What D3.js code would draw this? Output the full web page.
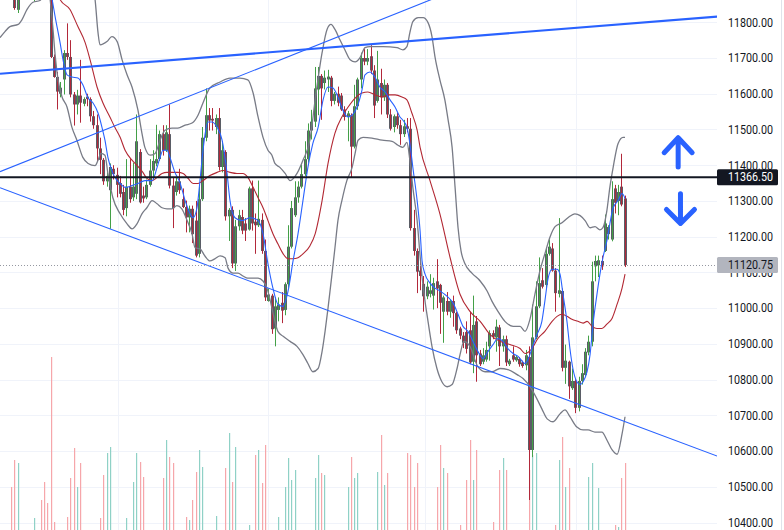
<!DOCTYPE html>
<html><head><meta charset="utf-8">
<script src="https://cdn.jsdelivr.net/npm/d3@7"></script>
<style>html,body{margin:0;padding:0;background:#fff;overflow:hidden}svg{display:block}</style>
</head><body><svg id="c" width="784" height="530"></svg>
<script>
// ---------- DATA ----------
const openP = [
11920,11930,11915,11890,11880,11835,11875,11895,11915,11905,
11880,11885,11900,11890,11880,11870,11703,11647,11600,11640,
11714,11703,11598,11570,11595,11572,11592,11585,11537,11512,
11447,11415,11355,11330,11390,11373,11350,11325,11280,11340,
11310,11320,11437,11315,11310,11345,11385,11405,11417,11487,
11442,11487,11343,11325,11355,11305,11283,11254,11278,11245,
11152,11305,11477,11540,11530,11507,11532,11395,11437,11257,
11275,11125,11229,11255,11237,11220,11335,11242,11232,11247,
11160,11020,11035,10943,10995,11015,10995,11067,11172,11260,
11310,11340,11375,11417,11497,11522,11612,11650,11630,11640,
11645,11580,11600,11595,11556,11535,11540,11452,11565,11640,
11700,11690,11705,11665,11580,11630,11590,11625,11542,11507,
11537,11512,11487,11509,11502,11224,11160,11105,11068,11033,
11040,11035,11075,11065,10990,11020,10990,11020,10986,10943,
10923,10933,10938,10850,10963,10873,10850,10856,10893,10930,
10918,10946,10893,10913,10843,10868,10854,10858,10848,10840,
10863,10603,10918,11005,11078,11065,11152,11167,11105,11040,
11048,10833,10850,10776,10796,10721,10796,10813,10876,10906,
11117,11120,11132,11160,11207,11192,11335,11300,11340,11307];
const highP = [
11945,11950,11925,11905,11895,11880,11900,11925,11935,11915,
11890,11910,11915,11900,11890,11885,11710,11661,11633,11722,
11797,11750,11605,11611,11695,11590,11600,11590,11552,11542,
11477,11420,11380,11405,11400,11393,11370,11345,11417,11417,
11407,11542,11445,11340,11360,11417,11442,11513,11497,11512,
11512,11570,11365,11365,11390,11335,11301,11287,11287,11300,
11340,11507,11615,11560,11560,11542,11560,11467,11442,11280,
11285,11247,11275,11275,11252,11340,11357,11265,11357,11265,
11192,11055,11040,11030,11030,11045,11072,11232,11300,11355,
11355,11402,11467,11517,11555,11675,11675,11655,11665,11667,
11650,11605,11620,11602,11565,11552,11545,11625,11645,11715,
11725,11725,11736,11680,11720,11670,11640,11630,11557,11542,
11547,11527,11527,11532,11532,11275,11167,11132,11090,11075,
11095,11085,11137,11068,11035,11045,11025,11035,10990,10948,
10933,10963,10990,11035,10978,10883,10888,10906,10938,10938,
10968,10953,10923,10923,10858,10893,10868,10863,10853,10883,
10893,11010,11075,11142,11112,11167,11192,11182,11112,11252,
11055,10898,10853,10831,10801,10808,10843,10888,10923,11130,
11147,11147,11147,11262,11232,11355,11345,11345,11432,11315];
const lowP = [
11900,11905,11880,11870,11835,11826,11865,11885,11895,11870,
11858,11875,11880,11870,11865,11700,11645,11556,11590,11598,
11695,11590,11511,11542,11519,11565,11565,11522,11502,11412,
11375,11345,11340,11222,11360,11310,11310,11260,11257,11295,
11300,11305,11293,11295,11305,11340,11360,11397,11412,11427,
11437,11335,11224,11315,11320,11280,11212,11212,11182,11142,
11142,11300,11467,11497,11497,11487,11385,11380,11245,11188,
11112,11104,11217,11207,11188,11217,11217,11152,11227,11152,
11020,11018,10928,10893,10963,10958,10980,11057,11167,11255,
11295,11335,11370,11407,11472,11507,11540,11527,11612,11605,
11565,11570,11565,11552,11525,11467,11365,11447,11555,11615,
11680,11680,11655,11532,11575,11542,11580,11532,11497,11492,
11502,11457,11479,11492,11217,11147,11042,11050,10990,11025,
11030,10996,11000,10928,10903,10980,10973,10948,10928,10913,
10888,10873,10843,10818,10794,10838,10843,10850,10853,10913,
10878,10838,10878,10838,10838,10850,10850,10836,10833,10826,
10463,10583,10913,11000,11055,11055,11147,11102,10990,11030,
10823,10788,10746,10771,10706,10711,10786,10808,10868,10893,
11075,11087,11107,11157,11192,11187,11265,11260,11285,11115];
const closeP = [
11930,11915,11890,11880,11840,11875,11895,11915,11905,11880,
11885,11900,11890,11880,11870,11703,11647,11606,11617,11714,
11703,11598,11570,11595,11575,11585,11585,11537,11512,11447,
11415,11355,11370,11395,11375,11345,11320,11275,11340,11305,
11340,11467,11296,11307,11345,11385,11412,11417,11487,11442,
11492,11343,11280,11355,11330,11283,11254,11278,11207,11147,
11305,11477,11540,11525,11525,11532,11395,11442,11257,11275,
11125,11229,11260,11217,11217,11335,11237,11232,11250,11160,
11030,11038,10941,11005,11010,10993,11067,11172,11280,11310,
11340,11375,11417,11497,11522,11615,11650,11615,11645,11648,
11580,11600,11575,11556,11535,11545,11452,11565,11640,11700,
11690,11700,11665,11567,11640,11590,11625,11542,11502,11537,
11512,11487,11509,11502,11224,11160,11102,11090,11033,11060,
11050,11070,11055,11015,11030,10990,11020,10986,10938,10923,
10903,10886,10848,10953,10868,10843,10868,10883,10930,10920,
10948,10893,10913,10848,10853,10856,10863,10843,10838,10868,
10603,10918,11005,11070,11060,11152,11172,11105,11042,11050,
10833,10853,10781,10796,10721,10796,10818,10878,10906,11075,
11132,11134,11117,11237,11227,11305,11295,11325,11290,11120.75];
const volume = [
0,0,0,43,70,67,0,0,0,0,
12,0,30,48,27,173,8,0,0,0,
13,52,82,43,67,0,0,0,0,0,
12,55,77,83,0,0,0,0,12,0,
48,77,68,53,0,0,0,0,0,52,
90,73,67,0,0,0,13,10,30,58,
80,63,0,0,0,14,0,0,62,97,
48,83,0,0,0,5,0,75,80,47,
85,0,0,0,13,0,43,72,50,60,
0,0,0,0,0,52,75,57,55,0,
0,0,0,0,0,43,73,52,57,0,
0,0,0,0,58,95,45,57,0,0,
0,0,0,77,75,43,67,0,0,0,
0,0,43,85,62,57,0,0,0,5,
0,50,90,50,80,0,0,0,0,8,
0,60,72,60,0,0,0,0,0,0,
60,75,77,0,0,0,0,0,5,70,
93,43,62,0,0,0,0,0,53,67,
0,42,0,0,0,0,5,3,52,67];

// indicator lines: [bar index, price]
const maFast = [[13.9,11948],[15.5,11864],[16.4,11816],[17.9,11743],[18.8,11695],[20.0,11653],[21.5,11647],[23.3,11644],[24.8,11625],[26.4,11588],[27.9,11574],[29.4,11546],[30.6,11506],[31.5,11470],[32.4,11422],[33.6,11385],[34.5,11366],[36.1,11349],[37.6,11338],[39.7,11343],[41.5,11349],[43.6,11357],[45.8,11357],[47.3,11394],[48.2,11422],[49.1,11442],[50.3,11442],[51.2,11422],[52.7,11380],[54.2,11352],[55.8,11301],[57.3,11264],[58.2,11253],[59.4,11281],[60.0,11329],[60.9,11414],[61.8,11484],[62.7,11521],[63.9,11521],[65.5,11506],[67.0,11470],[68.5,11377],[69.4,11301],[70.9,11253],[73.0,11245],[75.5,11253],[77.9,11245],[79.4,11208],[80.9,11124],[82.4,11056],[83.9,11011],[85.5,11005],[87.0,11048],[88.5,11132],[90.0,11208],[91.5,11301],[93.0,11394],[94.5,11461],[96.1,11506],[97.6,11583],[99.1,11619],[100.6,11616],[102.1,11591],[103.6,11554],[105.2,11535],[106.4,11540],[107.9,11563],[109.4,11611],[110.3,11653],[111.8,11661],[113.3,11647],[114.8,11619],[116.4,11605],[117.9,11583],[119.4,11563],[120.9,11535],[121.8,11526],[123.0,11506],[123.9,11461],[124.8,11394],[126.1,11301],[127.0,11216],[127.6,11132],[128.5,11095],[130.0,11070],[131.5,11056],[133.0,11048],[135.2,11033],[137.0,11014],[138.5,10983],[140.0,10949],[141.5,10935],[143.0,10907],[144.5,10879],[146.1,10859],[147.6,10879],[149.1,10898],[150.6,10915],[152.1,10907],[153.6,10887],[155.2,10873],[156.7,10865],[158.8,10845],[159.7,10856],[160.9,10887],[162.4,10926],[163.9,10963],[164.8,11019],[165.8,11084],[167.0,11109],[168.5,11109],[169.4,11095],[170.3,11039],[171.5,10963],[172.4,10887],[173.3,10831],[174.5,10794],[175.5,10786],[176.4,10794],[177.6,10822],[178.5,10870],[179.4,10955],[180.6,11039],[181.5,11095],[182.4,11141],[183.6,11188],[184.5,11236],[185.5,11281],[187.0,11301],[188.2,11321],[189.1,11307]];
const maSlow = [[16.4,11920],[17.9,11864],[20.9,11836],[23.3,11788],[25.5,11743],[27.0,11695],[29.1,11619],[30.9,11574],[33.0,11535],[34.5,11506],[36.1,11478],[37.6,11442],[39.7,11414],[41.5,11397],[43.0,11380],[44.2,11363],[45.8,11357],[47.3,11366],[48.8,11377],[50.3,11380],[52.1,11380],[53.6,11380],[55.2,11377],[56.7,11363],[58.2,11349],[59.7,11349],[61.2,11357],[63.3,11371],[65.5,11380],[67.3,11385],[69.4,11380],[71.5,11377],[73.3,11377],[74.8,11366],[76.4,11338],[77.9,11309],[79.4,11281],[80.9,11245],[82.4,11208],[83.9,11180],[85.5,11152],[87.0,11138],[88.5,11138],[90.0,11141],[91.5,11152],[93.6,11174],[95.2,11208],[97.3,11301],[99.1,11405],[101.2,11490],[103.3,11535],[105.2,11563],[107.3,11588],[109.4,11602],[111.2,11605],[113.3,11597],[115.5,11591],[117.3,11597],[119.4,11597],[121.5,11591],[123.0,11583],[124.5,11546],[126.1,11498],[127.0,11450],[130.0,11357],[133.0,11264],[136.1,11141],[139.1,11039],[142.1,10991],[145.2,10963],[148.2,10926],[151.2,10907],[154.2,10898],[157.3,10887],[158.8,10873],[160.9,10887],[162.7,10915],[164.8,10935],[167.0,10963],[168.5,10977],[170.0,10983],[171.5,10977],[173.0,10969],[174.8,10963],[176.4,10958],[177.6,10963],[179.1,10949],[180.6,10943],[182.1,10943],[183.6,10955],[185.2,10972],[186.7,11011],[188.2,11056],[189.1,11095]];
const bbUpper = [[27.0,11920],[28.5,11864],[29.4,11771],[30.0,11737],[32.1,11746],[33.6,11760],[35.2,11746],[36.7,11695],[38.2,11653],[39.7,11619],[41.5,11554],[42.7,11490],[43.6,11450],[45.2,11428],[46.7,11433],[48.2,11470],[49.7,11498],[51.8,11504],[53.6,11504],[55.8,11512],[57.9,11518],[59.7,11540],[61.2,11574],[63.3,11616],[66.4,11633],[69.4,11644],[72.4,11644],[74.8,11639],[76.4,11602],[77.9,11535],[79.4,11478],[80.9,11442],[82.1,11428],[83.0,11405],[84.5,11394],[86.1,11377],[87.6,11357],[89.7,11377],[91.5,11414],[93.6,11470],[95.2,11583],[97.3,11715],[98.8,11780],[100.0,11794],[101.2,11780],[102.7,11751],[104.2,11723],[105.8,11695],[107.3,11689],[108.8,11701],[110.3,11729],[111.8,11732],[115.8,11732],[120.0,11729],[121.8,11723],[123.0,11732],[123.9,11771],[124.8,11802],[126.4,11813],[127.9,11813],[129.4,11799],[130.6,11760],[131.5,11704],[133.0,11639],[134.5,11583],[135.5,11526],[136.7,11450],[137.6,11338],[138.5,11225],[139.4,11160],[140.6,11124],[142.7,11098],[145.2,11076],[147.3,11048],[148.8,11019],[150.6,10991],[152.7,10963],[155.2,10949],[157.3,10949],[158.8,10935],[160.3,10969],[161.8,11039],[163.3,11104],[164.8,11152],[166.4,11200],[167.9,11228],[170.0,11239],[171.8,11253],[173.9,11264],[175.5,11259],[177.0,11245],[178.5,11225],[180.0,11228],[181.5,11219],[182.4,11225],[183.6,11273],[184.5,11338],[185.5,11394],[187.0,11461],[188.5,11478],[189.1,11478]];
const bbLower = [[-0.3,11757],[1.2,11774],[2.7,11788],[5.2,11794],[6.4,11808],[7.9,11836],[9.7,11856],[11.8,11861],[13.3,11878],[14.5,11878],[15.5,11808],[16.4,11709],[17.3,11639],[18.5,11591],[20.0,11563],[21.5,11506],[23.0,11470],[24.8,11422],[26.4,11405],[28.5,11399],[29.4,11414],[30.3,11433],[31.5,11428],[32.4,11377],[33.9,11309],[36.1,11264],[38.2,11236],[39.7,11222],[41.2,11236],[42.7,11264],[44.2,11281],[45.8,11301],[47.3,11292],[48.8,11281],[50.3,11278],[51.8,11278],[53.3,11287],[54.8,11278],[56.4,11245],[57.9,11208],[58.8,11169],[60.3,11166],[61.8,11146],[63.3,11132],[64.8,11138],[66.4,11146],[67.9,11141],[68.8,11112],[70.3,11098],[71.8,11098],[73.3,11090],[74.8,11084],[77.9,11084],[79.4,11076],[80.6,11056],[82.1,11000],[83.0,10963],[83.9,10935],[85.5,10921],[87.6,10907],[89.7,10893],[91.5,10870],[93.0,10845],[94.5,10822],[96.1,10831],[97.3,10879],[98.2,10935],[99.1,11000],[100.3,11095],[101.2,11169],[102.1,11245],[103.3,11301],[104.8,11357],[106.4,11394],[107.3,11433],[108.2,11470],[109.7,11478],[112.4,11476],[115.5,11470],[118.5,11467],[120.3,11456],[121.8,11450],[123.0,11464],[123.9,11414],[124.8,11338],[126.1,11245],[127.0,11146],[127.9,11062],[129.4,10963],[130.6,10893],[132.1,10831],[133.6,10794],[135.2,10780],[136.7,10786],[138.2,10831],[139.1,10870],[140.3,10907],[142.1,10893],[144.5,10836],[146.7,10822],[148.8,10822],[151.2,10831],[153.6,10828],[156.4,10814],[158.2,10803],[160.3,10780],[162.4,10746],[163.9,10718],[165.5,10690],[167.3,10682],[169.4,10704],[170.9,10715],[172.4,10696],[174.5,10667],[176.4,10659],[177.9,10659],[180.0,10653],[182.1,10653],[183.6,10631],[185.2,10603],[186.7,10591],[188.2,10648],[189.1,10696]];

// drawings
const trendThick = [[-0.3,11656],[217,11816]];
const trendUpper = [[-0.3,11382],[132.1,11870]];
const trendLower = [[-0.3,11337],[217,10586]];
const hLinePrice = 11366.50;
const lastPrice = 11120.75;
const upArrow = {idx:205.2, top:11477, bottom:11395};
const downArrow = {idx:205.9, top:11320, bottom:11237};

const yTicks = [10400,10500,10600,10700,10800,10900,11000,11100,11200,11300,11400,11500,11600,11700,11800];
const timeGrid = [35.5, 81, 128.5, 174.2];

// ---------- CHART ----------
const W = 784, H = 530, plotR = 717;
const svg = d3.select('#c');
const x = d3.scaleLinear().domain([0,189]).range([1,624.7]);
const y = d3.scaleLinear().domain([10400,11800]).range([522.5,22.3]);
const yv = d3.scaleLinear().domain([0,200]).range([530,330]);

svg.append('rect').attr('width',W).attr('height',H).attr('fill','#fff');
svg.append('defs').append('clipPath').attr('id','plot')
  .append('rect').attr('x',0).attr('y',0).attr('width',plotR).attr('height',H);
const g = svg.append('g').attr('clip-path','url(#plot)');

const px = v => Math.round(v) + 0.5;
// grid
g.selectAll('.hg').data(yTicks).join('line')
  .attr('x1',0).attr('x2',plotR)
  .attr('y1',d=>px(y(d))).attr('y2',d=>px(y(d)))
  .attr('stroke','#f0f3fa').attr('stroke-width',1);
g.selectAll('.vg').data(timeGrid).join('line')
  .attr('x1',d=>px(x(d))).attr('x2',d=>px(x(d)))
  .attr('y1',0).attr('y2',H)
  .attr('stroke','#f0f3fa').attr('stroke-width',1);

// volume
const idx = d3.range(closeP.length);
g.selectAll('.vol').data(idx.filter(i=>volume[i]>0)).join('rect')
  .attr('x',i=>Math.round(x(i)))
  .attr('width',1.2)
  .attr('y',i=>yv(volume[i]))
  .attr('height',i=>yv(0)-yv(volume[i]))
  .attr('fill',i=>closeP[i]>=openP[i]?'#8fd1c6':'#f6a6aa');

// candles
const up = i => closeP[i] >= openP[i];
g.selectAll('.body').data(idx).join('rect')
  .attr('x',i=>Math.round(x(i))-1)
  .attr('width',3)
  .attr('y',i=>y(Math.max(openP[i],closeP[i])))
  .attr('height',i=>Math.max(1,Math.abs(y(openP[i])-y(closeP[i]))))
  .attr('fill','#5a5d66');
g.selectAll('.wick').data(idx).join('line')
  .attr('x1',i=>px(x(i))).attr('x2',i=>px(x(i)))
  .attr('y1',i=>y(highP[i])).attr('y2',i=>y(lowP[i]))
  .attr('stroke',i=>up(i)?'#43a047':'#b2283a').attr('stroke-width',1);

// indicator lines
const ln = d3.line().x(d=>x(d[0])).y(d=>y(d[1])).curve(d3.curveMonotoneX);
[[bbUpper,'#787b86',1.3],[bbLower,'#787b86',1.3],[maSlow,'#b22833',1.1],[maFast,'#2962ff',1.1]].forEach(([d,c,w])=>{
  g.append('path').datum(d).attr('d',ln).attr('fill','none').attr('stroke',c).attr('stroke-width',w);
});

// trend lines
const sl = d3.line().x(d=>x(d[0])).y(d=>y(d[1]));
g.append('path').datum(trendUpper).attr('d',sl).attr('stroke','#2962ff').attr('stroke-width',1.1).attr('fill','none');
g.append('path').datum(trendLower).attr('d',sl).attr('stroke','#2962ff').attr('stroke-width',1.1).attr('fill','none');
g.append('path').datum(trendThick).attr('d',sl).attr('stroke','#2962ff').attr('stroke-width',2.2).attr('fill','none');

// last price dotted line
g.append('line').attr('x1',0).attr('x2',plotR)
  .attr('y1',px(y(lastPrice))).attr('y2',px(y(lastPrice)))
  .attr('stroke','#9598a1').attr('stroke-width',1).attr('stroke-dasharray','1,2');
// horizontal line
g.append('line').attr('x1',0).attr('x2',plotR)
  .attr('y1',y(hLinePrice)).attr('y2',y(hLinePrice))
  .attr('stroke','#131722').attr('stroke-width',2);

// arrows
const arrowG = svg.append('g').attr('fill','none').attr('stroke','#2962ff')
  .attr('stroke-width',5).attr('stroke-linecap','round').attr('stroke-linejoin','round');
{
  const ax = x(upArrow.idx), t = y(upArrow.top), b = y(upArrow.bottom);
  arrowG.append('path').attr('d',`M${ax},${b}L${ax},${t+2}M${ax-14},${t+15}L${ax},${t}L${ax+14},${t+15}`);
  const dx = x(downArrow.idx), dt = y(downArrow.top), db = y(downArrow.bottom);
  arrowG.append('path').attr('d',`M${dx},${dt}L${dx},${db-2}M${dx-14},${db-14}L${dx},${db}L${dx+14},${db-14}`);
}

// axis
const fmt = d3.format('.2f');
const axis = svg.append('g').attr('transform','translate(728,0)')
  .call(d3.axisRight(y).tickValues(yTicks).tickFormat(fmt).tickSize(0).tickPadding(0));
axis.select('.domain').remove();
axis.selectAll('text').attr('fill','#131722').style('font-family','Roboto, "Liberation Sans", sans-serif')
  .style('font-size','12px').attr('textLength',45).attr('lengthAdjust','spacingAndGlyphs');

// price labels
const labels = [{v:hLinePrice,bg:'#131722',fg:'#ffffff'},{v:lastPrice,bg:'#b2b5be',fg:'#131722'}];
const lg = svg.selectAll('.lbl').data(labels).join('g');
lg.append('rect').attr('x',717).attr('width',61).attr('y',d=>y(d.v)-8).attr('height',16).attr('rx',1.5).attr('fill',d=>d.bg);
lg.append('text').attr('x',728).attr('y',d=>y(d.v)).attr('dy','0.34em')
  .attr('fill',d=>d.fg).style('font-family','Roboto, "Liberation Sans", sans-serif').style('font-size','12px')
  .attr('textLength',45).attr('lengthAdjust','spacingAndGlyphs').text(d=>fmt(d.v));

// right border
svg.append('line').attr('x1',781.5).attr('x2',781.5).attr('y1',0).attr('y2',H).attr('stroke','#e0e3eb');
</script></body></html>
